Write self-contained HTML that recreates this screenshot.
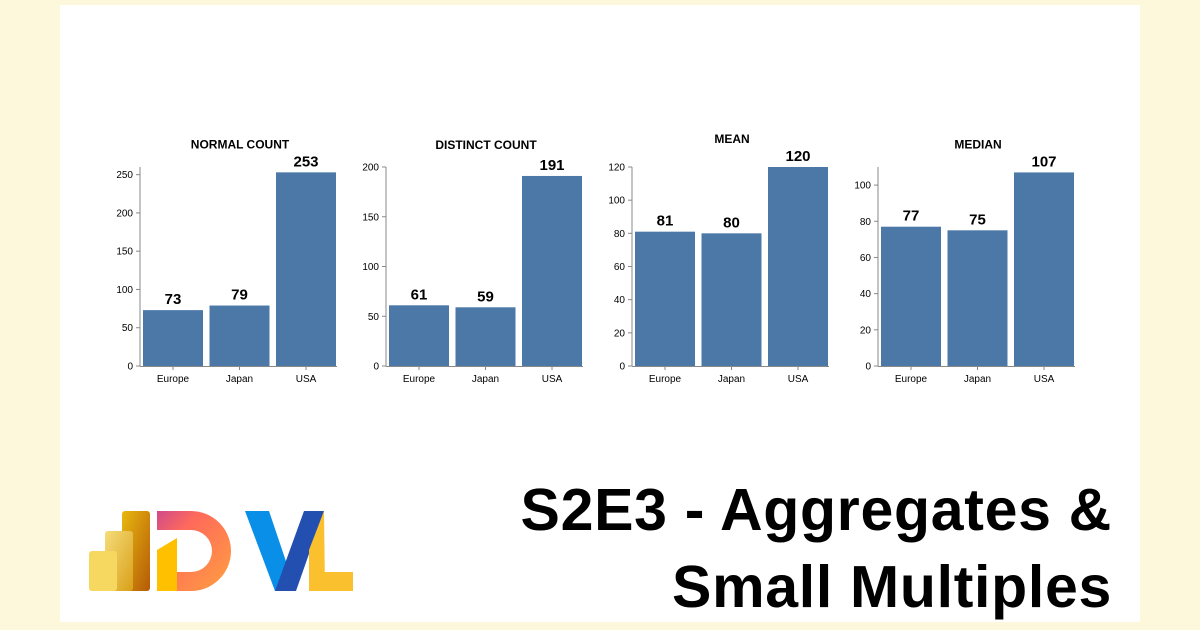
<!DOCTYPE html>
<html><head><meta charset="utf-8"><style>
body{margin:0;width:1200px;height:630px;background:#fdf8dc;overflow:hidden;font-family:"Liberation Sans",Arial,sans-serif}
#panel{position:absolute;left:60px;top:5px;width:1080px;height:617px;background:#fff}
#title{position:absolute;right:88px;top:472px;text-align:right;font-weight:bold;font-size:59px;line-height:77px;color:#000;letter-spacing:0.7px;white-space:nowrap}
</style></head><body>
<div id="panel"></div>
<svg id="charts" width="1200" height="630" style="position:absolute;left:0;top:0"></svg>
<div id="title">S2E3 - Aggregates &amp;<br>Small Multiples</div>
<svg width="300" height="100" style="position:absolute;left:76px;top:500px" viewBox="0 0 290 100">
<defs>
<linearGradient id="g1" x1="0" y1="0" x2="1" y2="1"><stop offset="0" stop-color="#e8b80e"/><stop offset="1" stop-color="#b55a08"/></linearGradient>
<linearGradient id="g2" x1="0" y1="0" x2="1" y2="1"><stop offset="0" stop-color="#f5dc7a"/><stop offset="1" stop-color="#d9a019"/></linearGradient>
<linearGradient id="g3" x1="0" y1="0" x2="1" y2="1"><stop offset="0" stop-color="#d04a8a"/><stop offset="0.3" stop-color="#ff6a5a"/><stop offset="1" stop-color="#ffa040"/></linearGradient>
</defs>
<rect x="41" y="11" width="28" height="80" rx="3" fill="url(#g1)"/>
<rect x="24" y="31" width="28" height="60" rx="3" fill="url(#g2)"/>
<rect x="8" y="51" width="28" height="40" rx="3" fill="#f6d860"/>
<path d="M76 11 H110 A40 40 0 0 1 110 91 H76 V51 L96 41 V72 H110 A21 21 0 0 0 110 30 H76 Z" fill="url(#g3)"/>
<path d="M76 50 L96 38 V91 H76 Z" fill="#ffc000"/>
<path d="M164 11 H188 L215 91 H194 Z" fill="#0a8fe8"/>
<path d="M243 11 H223 L194 91 H215 Z" fill="#2350b0"/>
<path d="M228 50 V91 H272 V72 H236 Z" fill="#fbc02d"/>
<path d="M243 11 L228 50 L230 91 L244 91 Z" fill="#fbc02d"/>
</svg>
<script>
const categories = ["Europe","Japan","USA"];
const titles = ["NORMAL COUNT","DISTINCT COUNT","MEAN","MEDIAN"];
const normalCount = [73,79,253];
const distinctCount = [61,59,191];
const meanValues = [81,80,120];
const medianValues = [77,75,107];
const domains = [260,200,120,110];
const tickSteps = [50,50,20,20];
const series = [normalCount,distinctCount,meanValues,medianValues];
const NS="http://www.w3.org/2000/svg";
const svg=document.getElementById('charts');
function mk(tag,attrs,parent){const e=document.createElementNS(NS,tag);for(const k in attrs)e.setAttribute(k,attrs[k]);(parent||svg).appendChild(e);return e;}
const base=366, h=199, axisXs=[140,386,632,878];
series.forEach((vals,ci)=>{
  const ax=axisXs[ci];
  const g=mk('g',{});
  
  
  const y=v=>base-v/domains[ci]*h;
  const x=i=>ax+3+i*66.5;
  const labelTop=Math.min(y(Math.max(...vals))-6, y(domains[ci]));
  const t=mk('text',{x:ax+100,y:labelTop-18,'text-anchor':'middle','font-size':12,'font-weight':'bold',fill:'#000'},g);
  t.textContent=titles[ci];
  
  
  vals.forEach((v,i)=>{
    const r=mk('rect',{x:x(i),y:y(v),width:60,height:base-y(v),fill:'#4c78a8'},g);
    
    
    const l=mk('text',{x:x(i)+30,y:y(v)-6,'text-anchor':'middle','font-size':15,'font-weight':'bold',fill:'#000'},g);
    l.textContent=v;
    
    
    mk('line',{x1:x(i)+30,x2:x(i)+30,y1:base,y2:base+4,stroke:'#888'},g);
    const c=mk('text',{x:x(i)+30,y:base+16,'text-anchor':'middle','font-size':10,fill:'#000'},g);
    c.textContent=categories[i];
    
    
  });
  mk('line',{x1:ax,x2:ax,y1:y(domains[ci]),y2:base,stroke:'#888'},g);
  mk('line',{x1:ax,x2:ax+197,y1:base+0.5,y2:base+0.5,stroke:'#888'},g);
  for(let v=0;v<=domains[ci];v+=tickSteps[ci]){
    mk('line',{x1:ax-4,x2:ax,y1:y(v),y2:y(v),stroke:'#888'},g);
    const tl=mk('text',{x:ax-7,y:y(v)+3.5,'text-anchor':'end','font-size':10,fill:'#000'},g);
    tl.textContent=v;
    
    
  }
});
</script>
</body></html>
